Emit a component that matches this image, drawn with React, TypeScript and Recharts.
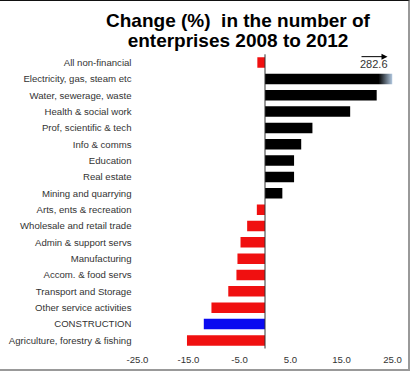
import React from 'react';
import { BarChart, Bar, XAxis, YAxis, Cell, ReferenceLine, LabelList } from 'recharts';

const categories = [
  'All non-financial',
  'Electricity, gas, steam etc',
  'Water, sewerage, waste',
  'Health & social work',
  'Prof, scientific & tech',
  'Info & comms',
  'Education',
  'Real estate',
  'Mining and quarrying',
  'Arts, ents & recreation',
  'Wholesale and retail trade',
  'Admin & support servs',
  'Manufacturing',
  'Accom. & food servs',
  'Transport and Storage',
  'Other service activities',
  'CONSTRUCTION',
  'Agriculture, forestry & fishing',
];
const changePct = [-1.5, 282.6, 21.9, 16.7, 9.3, 7.1, 5.7, 5.7, 3.4, -1.6, -3.5, -4.8, -5.4, -5.6, -7.2, -10.5, -12.0, -15.3];
const xTicks = [-25, -15, -5, 5, 15, 25];
const highlightCategory = 'CONSTRUCTION';
const titleLines = ['Change (%)  in the number of', 'enterprises 2008 to 2012'];
const axisMin = -25;
const axisMax = 25;

const data = categories.map((name, i) => ({
  name,
  value: changePct[i],
  shown: Math.max(axisMin, Math.min(axisMax, changePct[i])),
}));

const FONT = '"Liberation Sans", Arial, sans-serif';

const colorFor = (d: { name: string; value: number }) => {
  if (d.value > axisMax) return 'url(#overflowGrad)';
  if (d.name === highlightCategory) return '#0a0af0';
  return d.value < 0 ? '#f01010' : '#000000';
};

const CategoryTick = (props: any) => {
  const { x, y, payload } = props;
  return (
    <text x={x} y={y} dy="0.355em" textAnchor="end" fontSize={9.6} fill="#333" fontFamily={FONT}>
      {payload.value}
    </text>
  );
};

const OverflowLabel = (props: any) => {
  const { x, y, width, value } = props;
  if (value == null || value <= axisMax) return null;
  const xe = Number(x) + Number(width) - 5;
  const ya = Number(y) - 17;
  return (
    <g>
      <line x1={xe - 26} y1={ya} x2={xe - 5} y2={ya} stroke="#000" strokeWidth={1} />
      <polygon points={`${xe},${ya} ${xe - 6},${ya - 3} ${xe - 6},${ya + 3}`} fill="#000" />
      <text x={xe} y={Number(y) - 6} textAnchor="end" fontSize={11} fill="#333" fontFamily={FONT}>
        {Number(value).toFixed(1)}
      </text>
    </g>
  );
};

export default function App() {
  return (
    <div style={{ position: 'absolute', left: 0, top: 0, width: 412, height: 374, background: '#fff' }}>
      <div style={{ position: 'absolute', left: 0, top: 0 }}>
        <BarChart
          width={412}
          height={374}
          data={data}
          layout="vertical"
          margin={{ top: 54.3, right: 19.5, left: 0, bottom: 5.5 }}
          barCategoryGap="35%"
          style={{ fontFamily: FONT }}
        >
          <defs>
            <linearGradient id="overflowGrad" x1="0" y1="0" x2="1" y2="0">
              <stop offset="0" stopColor="#000" />
              <stop offset="0.89" stopColor="#000" />
              <stop offset="1" stopColor="#b4cbe3" />
            </linearGradient>
          </defs>
          <XAxis
            type="number"
            domain={[axisMin, axisMax]}
            ticks={xTicks}
            tickFormatter={(v: number) => v.toFixed(1)}
            axisLine={false}
            tickLine={false}
            height={20}
            tick={{ fontSize: 9.6, fill: '#333', fontFamily: FONT }}
            allowDataOverflow
          />
          <YAxis
            type="category"
            dataKey="name"
            width={137.5}
            axisLine={false}
            tickLine={false}
            tickSize={4}
            tickMargin={2}
            interval={0}
            tick={CategoryTick}
          />
          <Bar dataKey="shown" isAnimationActive={false} barSize={10.5}>
            {data.map((d, i) => (
              <Cell key={i} fill={colorFor(d)} />
            ))}
            <LabelList dataKey="value" content={OverflowLabel} />
          </Bar>
          <ReferenceLine x={0} stroke="#333" strokeWidth={1} />
        </BarChart>
      </div>
      <div
        style={{
          position: 'absolute',
          left: 88,
          top: 10.7,
          width: 300,
          textAlign: 'center',
          fontFamily: FONT,
          fontWeight: 'bold',
          fontSize: 19,
          lineHeight: '20px',
          color: '#000',
          whiteSpace: 'pre',
        }}
      >
        {titleLines.map((t, i) => (
          <div key={i}>{t}</div>
        ))}
      </div>
      <div
        style={{
          position: 'absolute',
          left: 0,
          top: 0,
          width: 410,
          height: 371,
          boxSizing: 'border-box',
          borderTop: '1.5px solid #111',
          borderRight: '2px solid #999',
          borderBottom: '2px solid #999',
          pointerEvents: 'none',
        }}
      />
    </div>
  );
}
